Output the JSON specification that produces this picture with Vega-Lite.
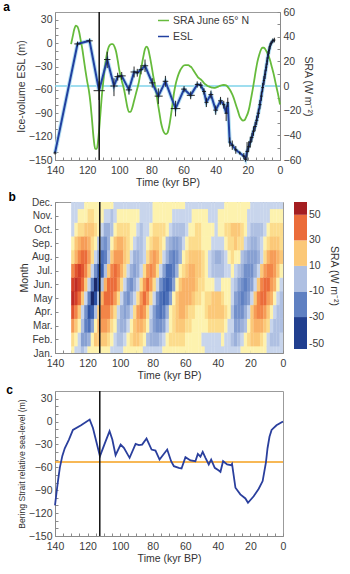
{
"$schema": "https://vega.github.io/schema/vega-lite/v6.json",
"background": "white",
"padding": {"left": 2, "top": 0, "right": 2, "bottom": 0},
"spacing": 1,
"config": {
  "font": "Liberation Sans",
  "view": {"stroke": "#9b9b9b"},
  "axis": {"labelFontSize": 10.5, "labelColor": "#3a3a3a", "titleFontSize": 10.5, "titleFontWeight": "normal", "titleColor": "#333", "domainColor": "#8a8a8a", "tickColor": "#8a8a8a", "grid": false, "tickSize": -3, "labelPadding": 6, "labelOverlap": false, "labelFlush": false, "labelBound": false, "titlePadding": 2},
  "axisX": {"labelPadding": 8},
  "title": {"anchor": "start", "fontSize": 12, "fontWeight": "bold", "frame": "bounds", "offset": -7},
  "legend": {"labelFontSize": 10.5, "labelColor": "#3a3a3a", "titleFontWeight": "normal", "titleFontSize": 10.5, "titleColor": "#333", "labelOverlap": false}
},
"resolve": {"scale": {"color": "independent"}, "legend": {"color": "independent"}},
"datasets": {
"sra": [{"t":130,"s":34},{"t":129,"s":40},{"t":128,"s":46},{"t":127,"s":49},{"t":126,"s":48},{"t":125,"s":44},{"t":124,"s":37},{"t":123,"s":30},{"t":122,"s":21},{"t":121,"s":12},{"t":120,"s":4},{"t":119,"s":-3},{"t":118,"s":-13},{"t":117,"s":-27},{"t":116,"s":-42},{"t":115,"s":-51},{"t":114,"s":-51},{"t":113,"s":-42},{"t":112,"s":-27},{"t":111,"s":-10},{"t":110,"s":3},{"t":109,"s":15},{"t":108,"s":24},{"t":107,"s":30},{"t":106,"s":33},{"t":105,"s":34},{"t":104,"s":34},{"t":103,"s":32},{"t":102,"s":28},{"t":101,"s":21},{"t":100,"s":13},{"t":99,"s":7},{"t":98,"s":2},{"t":97,"s":-3},{"t":96,"s":-10},{"t":95,"s":-17},{"t":94,"s":-21},{"t":93,"s":-21},{"t":92,"s":-18},{"t":91,"s":-13},{"t":90,"s":-8},{"t":89,"s":-3},{"t":88,"s":2},{"t":87,"s":9},{"t":86,"s":17},{"t":85,"s":24},{"t":84,"s":30},{"t":83,"s":32},{"t":82,"s":30},{"t":81,"s":24},{"t":80,"s":17},{"t":79,"s":9},{"t":78,"s":2},{"t":77,"s":-5},{"t":76,"s":-14},{"t":75,"s":-22},{"t":74,"s":-30},{"t":73,"s":-35},{"t":72,"s":-38},{"t":71,"s":-39},{"t":70,"s":-38},{"t":69,"s":-33},{"t":68,"s":-25},{"t":67,"s":-16},{"t":66,"s":-6},{"t":65,"s":1},{"t":64,"s":6},{"t":63,"s":10},{"t":62,"s":13},{"t":61,"s":15},{"t":60,"s":16.5},{"t":59,"s":17},{"t":58,"s":17},{"t":57,"s":17},{"t":56,"s":16},{"t":55,"s":15},{"t":54,"s":13},{"t":53,"s":11},{"t":52,"s":9},{"t":51,"s":7},{"t":50,"s":6},{"t":49,"s":5},{"t":48,"s":3.5},{"t":47,"s":2},{"t":46,"s":1},{"t":45,"s":0},{"t":44,"s":-0.5},{"t":43,"s":-1},{"t":42,"s":-1.4},{"t":41,"s":-1.5},{"t":40,"s":-1.3},{"t":39,"s":-0.8},{"t":38,"s":-0.2},{"t":37,"s":0.3},{"t":36,"s":0.7},{"t":35,"s":0.8},{"t":34,"s":0.7},{"t":33,"s":0},{"t":32,"s":-1.5},{"t":31,"s":-3.5},{"t":30,"s":-6},{"t":29,"s":-9},{"t":28,"s":-13},{"t":27,"s":-17},{"t":26,"s":-21},{"t":25,"s":-25},{"t":24,"s":-27},{"t":23,"s":-28},{"t":22,"s":-27.5},{"t":21,"s":-25},{"t":20,"s":-22},{"t":19,"s":-17},{"t":18,"s":-10},{"t":17,"s":-3},{"t":16,"s":5},{"t":15,"s":13},{"t":14,"s":20},{"t":13,"s":25},{"t":12,"s":29},{"t":11,"s":31},{"t":10,"s":31},{"t":9,"s":29.5},{"t":8,"s":27},{"t":7,"s":24},{"t":6,"s":20},{"t":5,"s":15},{"t":4,"s":10},{"t":3,"s":4},{"t":2,"s":-2},{"t":1,"s":-8},{"t":0,"s":-15}],
"esl": [
{"t":140,"v":-141,"tlo":139,"thi":141,"vlo":-143,"vhi":-139},
{"t":126,"v":-1,"tlo":124,"thi":128,"vlo":-4,"vhi":2},
{"t":118.5,"v":3,"tlo":116.5,"thi":120.5,"vlo":0,"vhi":6},
{"t":112.6,"v":-61,"tlo":109,"thi":116,"vlo":-73,"vhi":-49},
{"t":107.5,"v":-21,"tlo":105.5,"thi":109.5,"vlo":-32,"vhi":-11},
{"t":103.3,"v":-55,"tlo":101,"thi":105.5,"vlo":-68,"vhi":-45},
{"t":101,"v":-43,"tlo":99,"thi":103,"vlo":-48,"vhi":-38},
{"t":98.5,"v":-42,"tlo":96,"thi":101,"vlo":-47,"vhi":-37},
{"t":94,"v":-60,"tlo":92,"thi":96,"vlo":-66,"vhi":-54},
{"t":90.8,"v":-37,"tlo":89,"thi":93,"vlo":-44,"vhi":-30},
{"t":88.8,"v":-38,"tlo":87.5,"thi":90,"vlo":-43,"vhi":-33},
{"t":86.5,"v":-34,"tlo":85,"thi":88,"vlo":-40,"vhi":-28},
{"t":84,"v":-29,"tlo":82,"thi":86,"vlo":-37,"vhi":-21},
{"t":79.5,"v":-51,"tlo":77.5,"thi":81.5,"vlo":-57,"vhi":-45},
{"t":75.7,"v":-68,"tlo":73,"thi":78,"vlo":-78,"vhi":-58},
{"t":71.3,"v":-49,"tlo":69.5,"thi":73,"vlo":-56,"vhi":-42},
{"t":65,"v":-84,"tlo":62,"thi":68,"vlo":-94,"vhi":-74},
{"t":59.7,"v":-59,"tlo":58,"thi":61.5,"vlo":-63,"vhi":-55},
{"t":55.6,"v":-67,"tlo":53,"thi":58,"vlo":-72,"vhi":-62},
{"t":51.5,"v":-53,"tlo":50,"thi":53,"vlo":-57,"vhi":-49},
{"t":49.3,"v":-54,"tlo":48,"thi":50.5,"vlo":-58,"vhi":-50},
{"t":47.3,"v":-62,"tlo":46,"thi":48.5,"vlo":-66,"vhi":-58},
{"t":45.8,"v":-76,"tlo":44.5,"thi":47,"vlo":-82,"vhi":-70},
{"t":43,"v":-66,"tlo":41.5,"thi":44.5,"vlo":-71,"vhi":-61},
{"t":40,"v":-86,"tlo":38.5,"thi":41.5,"vlo":-92,"vhi":-80},
{"t":37,"v":-74,"tlo":35.5,"thi":38.5,"vlo":-79,"vhi":-69},
{"t":35,"v":-79,"tlo":34,"thi":36,"vlo":-84,"vhi":-74},
{"t":33.5,"v":-90,"tlo":32.5,"thi":34.5,"vlo":-100,"vhi":-80},
{"t":32.5,"v":-76,"tlo":31.8,"thi":33.2,"vlo":-82,"vhi":-70},
{"t":31.3,"v":-127,"tlo":30.5,"thi":32,"vlo":-133,"vhi":-121},
{"t":29.7,"v":-131,"tlo":28.5,"thi":31,"vlo":-137,"vhi":-125},
{"t":27.5,"v":-137,"tlo":26.5,"thi":28.5,"vlo":-142,"vhi":-132},
{"t":25,"v":-141,"tlo":24.5,"thi":25.5,"vlo":-143,"vhi":-139},
{"t":22.5,"v":-145,"tlo":21.5,"thi":23.5,"vlo":-149,"vhi":-141},
{"t":21.5,"v":-149,"tlo":20.5,"thi":22.5,"vlo":-152,"vhi":-146},
{"t":20.5,"v":-139,"tlo":19.5,"thi":21.5,"vlo":-151,"vhi":-127},
{"t":19.5,"v":-133,"tlo":18.5,"thi":20.5,"vlo":-140,"vhi":-126},
{"t":18.5,"v":-127,"tlo":17.5,"thi":19.5,"vlo":-134,"vhi":-120},
{"t":17.5,"v":-121,"tlo":16.5,"thi":18.5,"vlo":-127,"vhi":-115},
{"t":16.5,"v":-113,"tlo":15.5,"thi":17.5,"vlo":-119,"vhi":-107},
{"t":15.5,"v":-107,"tlo":14.5,"thi":16.5,"vlo":-113,"vhi":-101},
{"t":14.5,"v":-99,"tlo":13.5,"thi":15.5,"vlo":-105,"vhi":-93},
{"t":13.5,"v":-90,"tlo":12.5,"thi":14.5,"vlo":-96,"vhi":-84},
{"t":12.5,"v":-79,"tlo":11.5,"thi":13.5,"vlo":-85,"vhi":-73},
{"t":11.6,"v":-68,"tlo":10.8,"thi":12.4,"vlo":-74,"vhi":-62},
{"t":10.8,"v":-57,"tlo":10,"thi":11.6,"vlo":-63,"vhi":-51},
{"t":10,"v":-48,"tlo":9.3,"thi":10.7,"vlo":-54,"vhi":-42},
{"t":9.3,"v":-40,"tlo":8.6,"thi":10,"vlo":-46,"vhi":-34},
{"t":8.6,"v":-31,"tlo":8,"thi":9.2,"vlo":-36,"vhi":-26},
{"t":8,"v":-23,"tlo":7.4,"thi":8.6,"vlo":-28,"vhi":-18},
{"t":7.4,"v":-15,"tlo":6.8,"thi":8,"vlo":-20,"vhi":-10},
{"t":6.8,"v":-9,"tlo":6.2,"thi":7.4,"vlo":-14,"vhi":-4},
{"t":6.2,"v":-4,"tlo":5.6,"thi":6.8,"vlo":-8,"vhi":0},
{"t":5.5,"v":0,"tlo":4.8,"thi":6.2,"vlo":-3,"vhi":3},
{"t":4.5,"v":3,"tlo":3.8,"thi":5.2,"vlo":0,"vhi":6},
{"t":3.5,"v":4,"tlo":2.8,"thi":4.5,"vlo":1,"vhi":7}],
"bering": [{"t":140,"v":-110},{"t":139,"v":-92},{"t":138,"v":-75},{"t":137,"v":-60},{"t":135.5,"v":-45},{"t":134,"v":-35},{"t":131.5,"v":-24},{"t":129,"v":-11},{"t":124,"v":-5},{"t":118.7,"v":2.5},{"t":116.7,"v":-8.4},{"t":112.4,"v":-45.4},{"t":109.3,"v":-28},{"t":106.5,"v":-12.7},{"t":104.8,"v":-23.6},{"t":102.8,"v":-44},{"t":99.7,"v":-30.2},{"t":97.7,"v":-34.5},{"t":94.2,"v":-47.6},{"t":90.5,"v":-29.3},{"t":88.5,"v":-31},{"t":86.5,"v":-30.2},{"t":83.8,"v":-22.3},{"t":80.7,"v":-36.7},{"t":78.3,"v":-38},{"t":75.8,"v":-49.8},{"t":71.1,"v":-36.7},{"t":68.7,"v":-52},{"t":67,"v":-58.5},{"t":64,"v":-60.7},{"t":62.3,"v":-61.5},{"t":59.9,"v":-46.7},{"t":56.8,"v":-51},{"t":53.8,"v":-52},{"t":52.3,"v":-42.4},{"t":50.7,"v":-46},{"t":49.3,"v":-39.7},{"t":47.6,"v":-47.6},{"t":45.6,"v":-56.3},{"t":44.1,"v":-49.8},{"t":41.9,"v":-60.7},{"t":39.4,"v":-64.2},{"t":38.4,"v":-65.9},{"t":36.8,"v":-52},{"t":34.3,"v":-56.3},{"t":31.9,"v":-57.2},{"t":31.3,"v":-55.4},{"t":29.2,"v":-86.8},{"t":26.2,"v":-95.5},{"t":23.1,"v":-100.8},{"t":21.5,"v":-106.4},{"t":18,"v":-98},{"t":14.9,"v":-88},{"t":12.5,"v":-78},{"t":11.5,"v":-66},{"t":10.5,"v":-54},{"t":9.5,"v":-35},{"t":8.3,"v":-20},{"t":7,"v":-11},{"t":4,"v":-5},{"t":0,"v":0}],
"grid": [
{"t":129,"m":1,"v":0},{"t":129,"m":2,"v":8},{"t":129,"m":3,"v":23},{"t":129,"m":4,"v":37},{"t":129,"m":5,"v":49},{"t":129,"m":6,"v":40},{"t":129,"m":7,"v":25},{"t":129,"m":8,"v":9},{"t":129,"m":9,"v":2},{"t":129,"m":10,"v":-3},{"t":129,"m":11,"v":-3},{"t":129,"m":12,"v":-2},
{"t":127,"m":1,"v":-2},{"t":127,"m":2,"v":2},{"t":127,"m":3,"v":13},{"t":127,"m":4,"v":26},{"t":127,"m":5,"v":44},{"t":127,"m":6,"v":49},{"t":127,"m":7,"v":35},{"t":127,"m":8,"v":19},{"t":127,"m":9,"v":10},{"t":127,"m":10,"v":1},{"t":127,"m":11,"v":-1},{"t":127,"m":12,"v":-2},
{"t":125,"m":1,"v":-5},{"t":125,"m":2,"v":-5},{"t":125,"m":3,"v":2},{"t":125,"m":4,"v":10},{"t":125,"m":5,"v":30},{"t":125,"m":6,"v":44},{"t":125,"m":7,"v":43},{"t":125,"m":8,"v":27},{"t":125,"m":9,"v":15},{"t":125,"m":10,"v":6},{"t":125,"m":11,"v":1},{"t":125,"m":12,"v":-2},
{"t":123,"m":1,"v":-6},{"t":123,"m":2,"v":-17},{"t":123,"m":3,"v":-8},{"t":123,"m":4,"v":-3},{"t":123,"m":5,"v":12},{"t":123,"m":6,"v":30},{"t":123,"m":7,"v":39},{"t":123,"m":8,"v":33},{"t":123,"m":9,"v":21},{"t":123,"m":10,"v":9},{"t":123,"m":11,"v":3},{"t":123,"m":12,"v":-2},
{"t":121,"m":1,"v":-3},{"t":121,"m":2,"v":-20},{"t":121,"m":3,"v":-26},{"t":121,"m":4,"v":-23},{"t":121,"m":5,"v":-3},{"t":121,"m":6,"v":12},{"t":121,"m":7,"v":26},{"t":121,"m":8,"v":30},{"t":121,"m":9,"v":22},{"t":121,"m":10,"v":12},{"t":121,"m":11,"v":4},{"t":121,"m":12,"v":1},
{"t":119,"m":1,"v":0},{"t":119,"m":2,"v":-11},{"t":119,"m":3,"v":-32},{"t":119,"m":4,"v":-43},{"t":119,"m":5,"v":-27},{"t":119,"m":6,"v":-3},{"t":119,"m":7,"v":11},{"t":119,"m":8,"v":20},{"t":119,"m":9,"v":17},{"t":119,"m":10,"v":13},{"t":119,"m":11,"v":6},{"t":119,"m":12,"v":2},
{"t":117,"m":1,"v":3},{"t":117,"m":2,"v":1},{"t":117,"m":3,"v":-17},{"t":117,"m":4,"v":-36},{"t":117,"m":5,"v":-51},{"t":117,"m":6,"v":-27},{"t":117,"m":7,"v":-3},{"t":117,"m":8,"v":8},{"t":117,"m":9,"v":9},{"t":117,"m":10,"v":10},{"t":117,"m":11,"v":6},{"t":117,"m":12,"v":2},
{"t":115,"m":1,"v":4},{"t":115,"m":2,"v":10},{"t":115,"m":3,"v":2},{"t":115,"m":4,"v":-9},{"t":115,"m":5,"v":-42},{"t":115,"m":6,"v":-51},{"t":115,"m":7,"v":-24},{"t":115,"m":8,"v":-2},{"t":115,"m":9,"v":2},{"t":115,"m":10,"v":6},{"t":115,"m":11,"v":4},{"t":115,"m":12,"v":2},
{"t":113,"m":1,"v":4},{"t":113,"m":2,"v":13},{"t":113,"m":3,"v":15},{"t":113,"m":4,"v":13},{"t":113,"m":5,"v":-10},{"t":113,"m":6,"v":-42},{"t":113,"m":7,"v":-45},{"t":113,"m":8,"v":-18},{"t":113,"m":9,"v":-6},{"t":113,"m":10,"v":1},{"t":113,"m":11,"v":3},{"t":113,"m":12,"v":2},
{"t":111,"m":1,"v":3},{"t":111,"m":2,"v":14},{"t":111,"m":3,"v":20},{"t":111,"m":4,"v":26},{"t":111,"m":5,"v":15},{"t":111,"m":6,"v":-10},{"t":111,"m":7,"v":-37},{"t":111,"m":8,"v":-35},{"t":111,"m":9,"v":-19},{"t":111,"m":10,"v":-4},{"t":111,"m":11,"v":0},{"t":111,"m":12,"v":2},
{"t":109,"m":1,"v":2},{"t":109,"m":2,"v":11},{"t":109,"m":3,"v":21},{"t":109,"m":4,"v":29},{"t":109,"m":5,"v":30},{"t":109,"m":6,"v":15},{"t":109,"m":7,"v":-9},{"t":109,"m":8,"v":-29},{"t":109,"m":9,"v":-23},{"t":109,"m":10,"v":-11},{"t":109,"m":11,"v":-2},{"t":109,"m":12,"v":2},
{"t":107,"m":1,"v":0},{"t":107,"m":2,"v":5},{"t":107,"m":3,"v":17},{"t":107,"m":4,"v":27},{"t":107,"m":5,"v":34},{"t":107,"m":6,"v":30},{"t":107,"m":7,"v":13},{"t":107,"m":8,"v":-7},{"t":107,"m":9,"v":-12},{"t":107,"m":10,"v":-14},{"t":107,"m":11,"v":-5},{"t":107,"m":12,"v":2},
{"t":105,"m":1,"v":-1},{"t":105,"m":2,"v":1},{"t":105,"m":3,"v":8},{"t":105,"m":4,"v":18},{"t":105,"m":5,"v":32},{"t":105,"m":6,"v":34},{"t":105,"m":7,"v":26},{"t":105,"m":8,"v":10},{"t":105,"m":9,"v":1},{"t":105,"m":10,"v":-7},{"t":105,"m":11,"v":-6},{"t":105,"m":12,"v":2},
{"t":103,"m":1,"v":-3},{"t":103,"m":2,"v":-4},{"t":103,"m":3,"v":1},{"t":103,"m":4,"v":6},{"t":103,"m":5,"v":21},{"t":103,"m":6,"v":32},{"t":103,"m":7,"v":30},{"t":103,"m":8,"v":20},{"t":103,"m":9,"v":11},{"t":103,"m":10,"v":1},{"t":103,"m":11,"v":-3},{"t":103,"m":12,"v":-2},
{"t":101,"m":1,"v":-2},{"t":101,"m":2,"v":-8},{"t":101,"m":3,"v":-6},{"t":101,"m":4,"v":-3},{"t":101,"m":5,"v":7},{"t":101,"m":6,"v":21},{"t":101,"m":7,"v":28},{"t":101,"m":8,"v":23},{"t":101,"m":9,"v":15},{"t":101,"m":10,"v":7},{"t":101,"m":11,"v":0},{"t":101,"m":12,"v":-2},
{"t":99,"m":1,"v":-1},{"t":99,"m":2,"v":-7},{"t":99,"m":3,"v":-13},{"t":99,"m":4,"v":-14},{"t":99,"m":5,"v":-3},{"t":99,"m":6,"v":7},{"t":99,"m":7,"v":19},{"t":99,"m":8,"v":22},{"t":99,"m":9,"v":15},{"t":99,"m":10,"v":9},{"t":99,"m":11,"v":3},{"t":99,"m":12,"v":-2},
{"t":97,"m":1,"v":0},{"t":97,"m":2,"v":-3},{"t":97,"m":3,"v":-11},{"t":97,"m":4,"v":-18},{"t":97,"m":5,"v":-17},{"t":97,"m":6,"v":-3},{"t":97,"m":7,"v":6},{"t":97,"m":8,"v":14},{"t":97,"m":9,"v":13},{"t":97,"m":10,"v":9},{"t":97,"m":11,"v":4},{"t":97,"m":12,"v":-2},
{"t":95,"m":1,"v":2},{"t":95,"m":2,"v":1},{"t":95,"m":3,"v":-5},{"t":95,"m":4,"v":-11},{"t":95,"m":5,"v":-21},{"t":95,"m":6,"v":-17},{"t":95,"m":7,"v":-3},{"t":95,"m":8,"v":5},{"t":95,"m":9,"v":6},{"t":95,"m":10,"v":8},{"t":95,"m":11,"v":4},{"t":95,"m":12,"v":-2},
{"t":93,"m":1,"v":4},{"t":93,"m":2,"v":7},{"t":93,"m":3,"v":1},{"t":93,"m":4,"v":-3},{"t":93,"m":5,"v":-13},{"t":93,"m":6,"v":-21},{"t":93,"m":7,"v":-15},{"t":93,"m":8,"v":-2},{"t":93,"m":9,"v":1},{"t":93,"m":10,"v":4},{"t":93,"m":11,"v":3},{"t":93,"m":12,"v":-2},
{"t":91,"m":1,"v":4},{"t":91,"m":2,"v":12},{"t":91,"m":3,"v":11},{"t":91,"m":4,"v":8},{"t":91,"m":5,"v":-3},{"t":91,"m":6,"v":-13},{"t":91,"m":7,"v":-19},{"t":91,"m":8,"v":-12},{"t":91,"m":9,"v":-5},{"t":91,"m":10,"v":1},{"t":91,"m":11,"v":2},{"t":91,"m":12,"v":-2},
{"t":89,"m":1,"v":2},{"t":89,"m":2,"v":12},{"t":89,"m":3,"v":19},{"t":89,"m":4,"v":20},{"t":89,"m":5,"v":9},{"t":89,"m":6,"v":-3},{"t":89,"m":7,"v":-11},{"t":89,"m":8,"v":-14},{"t":89,"m":9,"v":-10},{"t":89,"m":10,"v":-3},{"t":89,"m":11,"v":0},{"t":89,"m":12,"v":-2},
{"t":87,"m":1,"v":0},{"t":87,"m":2,"v":7},{"t":87,"m":3,"v":19},{"t":87,"m":4,"v":27},{"t":87,"m":5,"v":24},{"t":87,"m":6,"v":9},{"t":87,"m":7,"v":-3},{"t":87,"m":8,"v":-9},{"t":87,"m":9,"v":-8},{"t":87,"m":10,"v":-6},{"t":87,"m":11,"v":-1},{"t":87,"m":12,"v":-2},
{"t":85,"m":1,"v":-2},{"t":85,"m":2,"v":1},{"t":85,"m":3,"v":11},{"t":85,"m":4,"v":20},{"t":85,"m":5,"v":32},{"t":85,"m":6,"v":24},{"t":85,"m":7,"v":8},{"t":85,"m":8,"v":-2},{"t":85,"m":9,"v":-4},{"t":85,"m":10,"v":-5},{"t":85,"m":11,"v":-3},{"t":85,"m":12,"v":-2},
{"t":83,"m":1,"v":-4},{"t":83,"m":2,"v":-6},{"t":83,"m":3,"v":1},{"t":83,"m":4,"v":8},{"t":83,"m":5,"v":24},{"t":83,"m":6,"v":32},{"t":83,"m":7,"v":21},{"t":83,"m":8,"v":6},{"t":83,"m":9,"v":1},{"t":83,"m":10,"v":-2},{"t":83,"m":11,"v":-2},{"t":83,"m":12,"v":-2},
{"t":81,"m":1,"v":-5},{"t":81,"m":2,"v":-12},{"t":81,"m":3,"v":-9},{"t":81,"m":4,"v":-4},{"t":81,"m":5,"v":9},{"t":81,"m":6,"v":24},{"t":81,"m":7,"v":28},{"t":81,"m":8,"v":16},{"t":81,"m":9,"v":8},{"t":81,"m":10,"v":1},{"t":81,"m":11,"v":-1},{"t":81,"m":12,"v":-2},
{"t":79,"m":1,"v":-5},{"t":79,"m":2,"v":-15},{"t":79,"m":3,"v":-19},{"t":79,"m":4,"v":-19},{"t":79,"m":5,"v":-5},{"t":79,"m":6,"v":9},{"t":79,"m":7,"v":21},{"t":79,"m":8,"v":22},{"t":79,"m":9,"v":14},{"t":79,"m":10,"v":5},{"t":79,"m":11,"v":0},{"t":79,"m":12,"v":2},
{"t":77,"m":1,"v":-3},{"t":77,"m":2,"v":-15},{"t":77,"m":3,"v":-24},{"t":77,"m":4,"v":-30},{"t":77,"m":5,"v":-22},{"t":77,"m":6,"v":-5},{"t":77,"m":7,"v":8},{"t":77,"m":8,"v":16},{"t":77,"m":9,"v":14},{"t":77,"m":10,"v":8},{"t":77,"m":11,"v":2},{"t":77,"m":12,"v":2},
{"t":75,"m":1,"v":-1},{"t":75,"m":2,"v":-10},{"t":75,"m":3,"v":-24},{"t":75,"m":4,"v":-33},{"t":75,"m":5,"v":-35},{"t":75,"m":6,"v":-22},{"t":75,"m":7,"v":-4},{"t":75,"m":8,"v":6},{"t":75,"m":9,"v":8},{"t":75,"m":10,"v":8},{"t":75,"m":11,"v":4},{"t":75,"m":12,"v":2},
{"t":73,"m":1,"v":1},{"t":73,"m":2,"v":-2},{"t":73,"m":3,"v":-16},{"t":73,"m":4,"v":-28},{"t":73,"m":5,"v":-39},{"t":73,"m":6,"v":-35},{"t":73,"m":7,"v":-19},{"t":73,"m":8,"v":-3},{"t":73,"m":9,"v":1},{"t":73,"m":10,"v":5},{"t":73,"m":11,"v":4},{"t":73,"m":12,"v":2},
{"t":71,"m":1,"v":2},{"t":71,"m":2,"v":2},{"t":71,"m":3,"v":-4},{"t":71,"m":4,"v":-14},{"t":71,"m":5,"v":-33},{"t":71,"m":6,"v":-39},{"t":71,"m":7,"v":-31},{"t":71,"m":8,"v":-15},{"t":71,"m":9,"v":-6},{"t":71,"m":10,"v":1},{"t":71,"m":11,"v":2},{"t":71,"m":12,"v":2},
{"t":69,"m":1,"v":2},{"t":69,"m":2,"v":5},{"t":69,"m":3,"v":4},{"t":69,"m":4,"v":1},{"t":69,"m":5,"v":-16},{"t":69,"m":6,"v":-33},{"t":69,"m":7,"v":-34},{"t":69,"m":8,"v":-24},{"t":69,"m":9,"v":-14},{"t":69,"m":10,"v":-4},{"t":69,"m":11,"v":0},{"t":69,"m":12,"v":2},
{"t":67,"m":1,"v":2},{"t":67,"m":2,"v":7},{"t":67,"m":3,"v":8},{"t":67,"m":4,"v":9},{"t":67,"m":5,"v":1},{"t":67,"m":6,"v":-16},{"t":67,"m":7,"v":-29},{"t":67,"m":8,"v":-27},{"t":67,"m":9,"v":-17},{"t":67,"m":10,"v":-8},{"t":67,"m":11,"v":-2},{"t":67,"m":12,"v":2},
{"t":65,"m":1,"v":2},{"t":65,"m":2,"v":7},{"t":65,"m":3,"v":10},{"t":65,"m":4,"v":13},{"t":65,"m":5,"v":10},{"t":65,"m":6,"v":1},{"t":65,"m":7,"v":-14},{"t":65,"m":8,"v":-22},{"t":65,"m":9,"v":-17},{"t":65,"m":10,"v":-10},{"t":65,"m":11,"v":-4},{"t":65,"m":12,"v":2},
{"t":63,"m":1,"v":2},{"t":63,"m":2,"v":6},{"t":63,"m":3,"v":11},{"t":63,"m":4,"v":15},{"t":63,"m":5,"v":15},{"t":63,"m":6,"v":10},{"t":63,"m":7,"v":1},{"t":63,"m":8,"v":-11},{"t":63,"m":9,"v":-11},{"t":63,"m":10,"v":-10},{"t":63,"m":11,"v":-5},{"t":63,"m":12,"v":2},
{"t":61,"m":1,"v":1},{"t":61,"m":2,"v":5},{"t":61,"m":3,"v":10},{"t":61,"m":4,"v":15},{"t":61,"m":5,"v":17},{"t":61,"m":6,"v":15},{"t":61,"m":7,"v":9},{"t":61,"m":8,"v":1},{"t":61,"m":9,"v":-3},{"t":61,"m":10,"v":-7},{"t":61,"m":11,"v":-5},{"t":61,"m":12,"v":2},
{"t":59,"m":1,"v":1},{"t":59,"m":2,"v":4},{"t":59,"m":3,"v":8},{"t":59,"m":4,"v":13},{"t":59,"m":5,"v":17},{"t":59,"m":6,"v":17},{"t":59,"m":7,"v":13},{"t":59,"m":8,"v":7},{"t":59,"m":9,"v":3},{"t":59,"m":10,"v":-2},{"t":59,"m":11,"v":-3},{"t":59,"m":12,"v":-2},
{"t":57,"m":1,"v":0},{"t":57,"m":2,"v":2},{"t":57,"m":3,"v":6},{"t":57,"m":4,"v":9},{"t":57,"m":5,"v":15},{"t":57,"m":6,"v":17},{"t":57,"m":7,"v":15},{"t":57,"m":8,"v":10},{"t":57,"m":9,"v":6},{"t":57,"m":10,"v":2},{"t":57,"m":11,"v":-1},{"t":57,"m":12,"v":-2},
{"t":55,"m":1,"v":0},{"t":55,"m":2,"v":1},{"t":55,"m":3,"v":4},{"t":55,"m":4,"v":6},{"t":55,"m":5,"v":11},{"t":55,"m":6,"v":15},{"t":55,"m":7,"v":15},{"t":55,"m":8,"v":12},{"t":55,"m":9,"v":7},{"t":55,"m":10,"v":4},{"t":55,"m":11,"v":1},{"t":55,"m":12,"v":-2},
{"t":53,"m":1,"v":0},{"t":53,"m":2,"v":0},{"t":53,"m":3,"v":2},{"t":53,"m":4,"v":4},{"t":53,"m":5,"v":7},{"t":53,"m":6,"v":11},{"t":53,"m":7,"v":13},{"t":53,"m":8,"v":12},{"t":53,"m":9,"v":8},{"t":53,"m":10,"v":5},{"t":53,"m":11,"v":2},{"t":53,"m":12,"v":-2},
{"t":51,"m":1,"v":0},{"t":51,"m":2,"v":0},{"t":51,"m":3,"v":1},{"t":51,"m":4,"v":2},{"t":51,"m":5,"v":5},{"t":51,"m":6,"v":7},{"t":51,"m":7,"v":10},{"t":51,"m":8,"v":10},{"t":51,"m":9,"v":7},{"t":51,"m":10,"v":5},{"t":51,"m":11,"v":2},{"t":51,"m":12,"v":-2},
{"t":49,"m":1,"v":0},{"t":49,"m":2,"v":-1},{"t":49,"m":3,"v":1},{"t":49,"m":4,"v":4},{"t":49,"m":5,"v":4},{"t":49,"m":6,"v":5},{"t":49,"m":7,"v":6},{"t":49,"m":8,"v":6},{"t":49,"m":9,"v":4},{"t":49,"m":10,"v":3},{"t":49,"m":11,"v":1},{"t":49,"m":12,"v":-2},
{"t":47,"m":1,"v":-1},{"t":47,"m":2,"v":-2},{"t":47,"m":3,"v":3},{"t":47,"m":4,"v":7},{"t":47,"m":5,"v":5},{"t":47,"m":6,"v":3},{"t":47,"m":7,"v":2},{"t":47,"m":8,"v":1},{"t":47,"m":9,"v":2},{"t":47,"m":10,"v":2},{"t":47,"m":11,"v":0},{"t":47,"m":12,"v":-2},
{"t":45,"m":1,"v":-2},{"t":45,"m":2,"v":-3},{"t":45,"m":3,"v":6},{"t":45,"m":4,"v":10},{"t":45,"m":5,"v":8},{"t":45,"m":6,"v":1},{"t":45,"m":7,"v":-2},{"t":45,"m":8,"v":-3},{"t":45,"m":9,"v":0},{"t":45,"m":10,"v":1},{"t":45,"m":11,"v":-1},{"t":45,"m":12,"v":-2},
{"t":43,"m":1,"v":-3},{"t":43,"m":2,"v":-3},{"t":43,"m":3,"v":8},{"t":43,"m":4,"v":13},{"t":43,"m":5,"v":10},{"t":43,"m":6,"v":0},{"t":43,"m":7,"v":-6},{"t":43,"m":8,"v":-8},{"t":43,"m":9,"v":-3},{"t":43,"m":10,"v":0},{"t":43,"m":11,"v":-1},{"t":43,"m":12,"v":-2},
{"t":41,"m":1,"v":-3},{"t":41,"m":2,"v":-2},{"t":41,"m":3,"v":9},{"t":41,"m":4,"v":14},{"t":41,"m":5,"v":11},{"t":41,"m":6,"v":-1},{"t":41,"m":7,"v":-9},{"t":41,"m":8,"v":-11},{"t":41,"m":9,"v":-5},{"t":41,"m":10,"v":-1},{"t":41,"m":11,"v":-1},{"t":41,"m":12,"v":-2},
{"t":39,"m":1,"v":-2},{"t":39,"m":2,"v":-1},{"t":39,"m":3,"v":8},{"t":39,"m":4,"v":13},{"t":39,"m":5,"v":10},{"t":39,"m":6,"v":-1},{"t":39,"m":7,"v":-9},{"t":39,"m":8,"v":-11},{"t":39,"m":9,"v":-4},{"t":39,"m":10,"v":1},{"t":39,"m":11,"v":0},{"t":39,"m":12,"v":-2},
{"t":37,"m":1,"v":-2},{"t":37,"m":2,"v":0},{"t":37,"m":3,"v":6},{"t":37,"m":4,"v":10},{"t":37,"m":5,"v":7},{"t":37,"m":6,"v":0},{"t":37,"m":7,"v":-7},{"t":37,"m":8,"v":-8},{"t":37,"m":9,"v":-1},{"t":37,"m":10,"v":3},{"t":37,"m":11,"v":1},{"t":37,"m":12,"v":-2},
{"t":35,"m":1,"v":-3},{"t":35,"m":2,"v":-1},{"t":35,"m":3,"v":3},{"t":35,"m":4,"v":6},{"t":35,"m":5,"v":4},{"t":35,"m":6,"v":1},{"t":35,"m":7,"v":-4},{"t":35,"m":8,"v":-3},{"t":35,"m":9,"v":3},{"t":35,"m":10,"v":6},{"t":35,"m":11,"v":2},{"t":35,"m":12,"v":2},
{"t":33,"m":1,"v":-4},{"t":33,"m":2,"v":-3},{"t":33,"m":3,"v":-1},{"t":33,"m":4,"v":1},{"t":33,"m":5,"v":0},{"t":33,"m":6,"v":0},{"t":33,"m":7,"v":-1},{"t":33,"m":8,"v":2},{"t":33,"m":9,"v":7},{"t":33,"m":10,"v":9},{"t":33,"m":11,"v":3},{"t":33,"m":12,"v":2},
{"t":31,"m":1,"v":-4},{"t":31,"m":2,"v":-6},{"t":31,"m":3,"v":-5},{"t":31,"m":4,"v":-6},{"t":31,"m":5,"v":-5},{"t":31,"m":6,"v":-3},{"t":31,"m":7,"v":2},{"t":31,"m":8,"v":5},{"t":31,"m":9,"v":9},{"t":31,"m":10,"v":11},{"t":31,"m":11,"v":3},{"t":31,"m":12,"v":2},
{"t":29,"m":1,"v":-3},{"t":29,"m":2,"v":-11},{"t":29,"m":3,"v":-17},{"t":29,"m":4,"v":-21},{"t":29,"m":5,"v":-17},{"t":29,"m":6,"v":-9},{"t":29,"m":7,"v":-3},{"t":29,"m":8,"v":4},{"t":29,"m":9,"v":10},{"t":29,"m":10,"v":12},{"t":29,"m":11,"v":3},{"t":29,"m":12,"v":2},
{"t":27,"m":1,"v":-1},{"t":27,"m":2,"v":-9},{"t":27,"m":3,"v":-17},{"t":27,"m":4,"v":-24},{"t":27,"m":5,"v":-25},{"t":27,"m":6,"v":-17},{"t":27,"m":7,"v":-8},{"t":27,"m":8,"v":0},{"t":27,"m":9,"v":9},{"t":27,"m":10,"v":12},{"t":27,"m":11,"v":3},{"t":27,"m":12,"v":2},
{"t":25,"m":1,"v":1},{"t":25,"m":2,"v":-4},{"t":25,"m":3,"v":-14},{"t":25,"m":4,"v":-21},{"t":25,"m":5,"v":-28},{"t":25,"m":6,"v":-25},{"t":25,"m":7,"v":-15},{"t":25,"m":8,"v":-6},{"t":25,"m":9,"v":5},{"t":25,"m":10,"v":9},{"t":25,"m":11,"v":2},{"t":25,"m":12,"v":2},
{"t":23,"m":1,"v":2},{"t":23,"m":2,"v":2},{"t":23,"m":3,"v":-6},{"t":23,"m":4,"v":-15},{"t":23,"m":5,"v":-25},{"t":23,"m":6,"v":-28},{"t":23,"m":7,"v":-22},{"t":23,"m":8,"v":-12},{"t":23,"m":9,"v":-2},{"t":23,"m":10,"v":3},{"t":23,"m":11,"v":0},{"t":23,"m":12,"v":2},
{"t":21,"m":1,"v":4},{"t":21,"m":2,"v":8},{"t":21,"m":3,"v":3},{"t":21,"m":4,"v":-3},{"t":21,"m":5,"v":-17},{"t":21,"m":6,"v":-25},{"t":21,"m":7,"v":-25},{"t":21,"m":8,"v":-17},{"t":21,"m":9,"v":-10},{"t":21,"m":10,"v":-4},{"t":21,"m":11,"v":-1},{"t":21,"m":12,"v":2},
{"t":19,"m":1,"v":4},{"t":19,"m":2,"v":12},{"t":19,"m":3,"v":12},{"t":19,"m":4,"v":11},{"t":19,"m":5,"v":-3},{"t":19,"m":6,"v":-17},{"t":19,"m":7,"v":-22},{"t":19,"m":8,"v":-19},{"t":19,"m":9,"v":-12},{"t":19,"m":10,"v":-6},{"t":19,"m":11,"v":-2},{"t":19,"m":12,"v":-2},
{"t":17,"m":1,"v":3},{"t":17,"m":2,"v":12},{"t":17,"m":3,"v":18},{"t":17,"m":4,"v":21},{"t":17,"m":5,"v":13},{"t":17,"m":6,"v":-3},{"t":17,"m":7,"v":-15},{"t":17,"m":8,"v":-17},{"t":17,"m":9,"v":-12},{"t":17,"m":10,"v":-7},{"t":17,"m":11,"v":-3},{"t":17,"m":12,"v":-2},
{"t":15,"m":1,"v":2},{"t":15,"m":2,"v":11},{"t":15,"m":3,"v":19},{"t":15,"m":4,"v":26},{"t":15,"m":5,"v":25},{"t":15,"m":6,"v":13},{"t":15,"m":7,"v":-3},{"t":15,"m":8,"v":-12},{"t":15,"m":9,"v":-10},{"t":15,"m":10,"v":-7},{"t":15,"m":11,"v":-3},{"t":15,"m":12,"v":-2},
{"t":13,"m":1,"v":1},{"t":13,"m":2,"v":8},{"t":13,"m":3,"v":17},{"t":13,"m":4,"v":25},{"t":13,"m":5,"v":31},{"t":13,"m":6,"v":25},{"t":13,"m":7,"v":11},{"t":13,"m":8,"v":-2},{"t":13,"m":9,"v":-5},{"t":13,"m":10,"v":-6},{"t":13,"m":11,"v":-3},{"t":13,"m":12,"v":-2},
{"t":11,"m":1,"v":0},{"t":11,"m":2,"v":4},{"t":11,"m":3,"v":12},{"t":11,"m":4,"v":20},{"t":11,"m":5,"v":30},{"t":11,"m":6,"v":31},{"t":11,"m":7,"v":22},{"t":11,"m":8,"v":9},{"t":11,"m":9,"v":2},{"t":11,"m":10,"v":-3},{"t":11,"m":11,"v":-3},{"t":11,"m":12,"v":-2},
{"t":9,"m":1,"v":-2},{"t":9,"m":2,"v":-1},{"t":9,"m":3,"v":6},{"t":9,"m":4,"v":13},{"t":9,"m":5,"v":24},{"t":9,"m":6,"v":30},{"t":9,"m":7,"v":27},{"t":9,"m":8,"v":17},{"t":9,"m":9,"v":9},{"t":9,"m":10,"v":1},{"t":9,"m":11,"v":-1},{"t":9,"m":12,"v":-2},
{"t":7,"m":1,"v":-3},{"t":7,"m":2,"v":-6},{"t":7,"m":3,"v":-1},{"t":7,"m":4,"v":3},{"t":7,"m":5,"v":15},{"t":7,"m":6,"v":24},{"t":7,"m":7,"v":26},{"t":7,"m":8,"v":21},{"t":7,"m":9,"v":13},{"t":7,"m":10,"v":5},{"t":7,"m":11,"v":1},{"t":7,"m":12,"v":-2},
{"t":5,"m":1,"v":-3},{"t":5,"m":2,"v":-6},{"t":5,"m":3,"v":-6},{"t":5,"m":4,"v":-4},{"t":5,"m":5,"v":4},{"t":5,"m":6,"v":15},{"t":5,"m":7,"v":21},{"t":5,"m":8,"v":20},{"t":5,"m":9,"v":14},{"t":5,"m":10,"v":8},{"t":5,"m":11,"v":2},{"t":5,"m":12,"v":-2},
{"t":3,"m":1,"v":-3},{"t":3,"m":2,"v":-6},{"t":3,"m":3,"v":-6},{"t":3,"m":4,"v":-6},{"t":3,"m":5,"v":-3},{"t":3,"m":6,"v":4},{"t":3,"m":7,"v":13},{"t":3,"m":8,"v":16},{"t":3,"m":9,"v":12},{"t":3,"m":10,"v":8},{"t":3,"m":11,"v":4},{"t":3,"m":12,"v":-2},
{"t":1,"m":1,"v":-2},{"t":1,"m":2,"v":-5},{"t":1,"m":3,"v":-6},{"t":1,"m":4,"v":-7},{"t":1,"m":5,"v":-8},{"t":1,"m":6,"v":-5},{"t":1,"m":7,"v":4},{"t":1,"m":8,"v":10},{"t":1,"m":9,"v":9},{"t":1,"m":10,"v":7},{"t":1,"m":11,"v":4},{"t":1,"m":12,"v":-2}
]
},
"vconcat": [
{
 "width": 225, "height": 148,
 "title": {"text": "a", "dx": -13},
 "resolve": {"scale": {"y": "independent"}},
 "layer": [
  {
   "layer": [
    {"data": {"values": [{"lvl": -55}]},
     "mark": {"type": "rule", "color": "#7fd3ea", "strokeWidth": 1.3},
     "encoding": {
       "y": {"field": "lvl", "type": "quantitative", "scale": {"domain": [-150, 40]},
             "axis": {"title": "Ice-volume ESL (m)", "labelOverlap": false, "values": [-150,-140,-130,-120,-110,-100,-90,-80,-70,-60,-50,-40,-30,-20,-10,0,10,20,30], "labelExpr": "datum.value % 30 === 0 ? datum.label : ''"}}
     }},
    {"data": {"name": "esl"},
     "mark": {"type": "line", "color": "#b5e0f2", "strokeWidth": 4},
     "encoding": {
       "x": {"field": "t", "type": "quantitative", "scale": {"domain": [0, 140], "reverse": true},
             "axis": {"title": "Time (kyr BP)", "labelOverlap": false, "values": [0,5,10,15,20,25,30,35,40,45,50,55,60,65,70,75,80,85,90,95,100,105,110,115,120,125,130,135,140], "labelExpr": "datum.value % 20 === 0 ? datum.label : ''"}},
       "y": {"field": "v", "type": "quantitative", "scale": {"domain": [-150, 40]},
             "axis": {"title": "Ice-volume ESL (m)", "labelOverlap": false, "values": [-150,-140,-130,-120,-110,-100,-90,-80,-70,-60,-50,-40,-30,-20,-10,0,10,20,30], "labelExpr": "datum.value % 30 === 0 ? datum.label : ''"}}
     }}
   ]
  },
  {"data": {"name": "sra"},
   "mark": {"type": "line", "strokeWidth": 1.8, "interpolate": "monotone"},
   "encoding": {
     "x": {"field": "t", "type": "quantitative", "scale": {"domain": [0, 140], "reverse": true},
           "axis": {"title": "Time (kyr BP)", "labelOverlap": false, "values": [0,5,10,15,20,25,30,35,40,45,50,55,60,65,70,75,80,85,90,95,100,105,110,115,120,125,130,135,140], "labelExpr": "datum.value % 20 === 0 ? datum.label : ''"}},
     "y": {"field": "s", "type": "quantitative", "scale": {"domain": [-60, 60]},
           "axis": {"orient": "right", "title": "SRA (W m⁻²)", "labelOverlap": false, "values": [-60,-50,-40,-30,-20,-10,0,10,20,30,40,50,60], "labelExpr": "datum.value % 20 === 0 ? datum.label : ''"}},
     "color": {"datum": "SRA June 65° N", "type": "nominal",
               "scale": {"domain": ["SRA June 65° N", "ESL"], "range": ["#66bb3c", "#2240a0"]},
               "legend": {"title": null, "orient": "none", "legendX": 102, "legendY": 2, "symbolType": "stroke", "symbolSize": 120, "symbolStrokeWidth": 1.5, "rowPadding": 4, "labelOffset": 3}}
   }},
  {
   "layer": [
    {"data": {"name": "esl"},
     "mark": {"type": "line", "strokeWidth": 2},
     "encoding": {
       "x": {"field": "t", "type": "quantitative", "scale": {"domain": [0, 140], "reverse": true},
             "axis": {"title": "Time (kyr BP)", "labelOverlap": false, "values": [0,5,10,15,20,25,30,35,40,45,50,55,60,65,70,75,80,85,90,95,100,105,110,115,120,125,130,135,140], "labelExpr": "datum.value % 20 === 0 ? datum.label : ''"}},
       "y": {"field": "v", "type": "quantitative", "scale": {"domain": [-150, 40]}, "axis": null},
       "color": {"datum": "ESL", "type": "nominal"}
     }},
    {"data": {"name": "esl"},
     "mark": {"type": "rule", "color": "#151515", "strokeWidth": 0.9},
     "encoding": {
       "x": {"field": "tlo", "type": "quantitative", "scale": {"domain": [0, 140], "reverse": true},
             "axis": {"title": "Time (kyr BP)", "labelOverlap": false, "values": [0,5,10,15,20,25,30,35,40,45,50,55,60,65,70,75,80,85,90,95,100,105,110,115,120,125,130,135,140], "labelExpr": "datum.value % 20 === 0 ? datum.label : ''"}},
       "x2": {"field": "thi"},
       "y": {"field": "v", "type": "quantitative", "scale": {"domain": [-150, 40]}, "axis": null}
     }},
    {"data": {"name": "esl"},
     "mark": {"type": "rule", "color": "#151515", "strokeWidth": 0.9},
     "encoding": {
       "x": {"field": "t", "type": "quantitative", "scale": {"domain": [0, 140], "reverse": true},
             "axis": {"title": "Time (kyr BP)", "labelOverlap": false, "values": [0,5,10,15,20,25,30,35,40,45,50,55,60,65,70,75,80,85,90,95,100,105,110,115,120,125,130,135,140], "labelExpr": "datum.value % 20 === 0 ? datum.label : ''"}},
       "y": {"field": "vlo", "type": "quantitative", "scale": {"domain": [-150, 40]}, "axis": null},
       "y2": {"field": "vhi"}
     }},
    {"data": {"values": [{"t": 112.5}]},
     "mark": {"type": "rule", "color": "#111", "strokeWidth": 1.5},
     "encoding": {"x": {"field": "t", "type": "quantitative", "scale": {"domain": [0, 140], "reverse": true},
             "axis": {"title": "Time (kyr BP)", "labelOverlap": false, "values": [0,5,10,15,20,25,30,35,40,45,50,55,60,65,70,75,80,85,90,95,100,105,110,115,120,125,130,135,140], "labelExpr": "datum.value % 20 === 0 ? datum.label : ''"}}}}
   ]
  }
 ]
},
{
 "width": 228, "height": 151,
 "title": {"text": "b", "dx": -11},
 "layer": [
  {"data": {"name": "grid"},
   "mark": {"type": "rect", "clip": true, "width": 3.5, "height": 14.2},
   "encoding": {
     "x": {"field": "t", "type": "quantitative", "scale": {"domain": [0, 140], "reverse": true},
           "axis": {"title": "Time (kyr BP)", "labelOverlap": false, "values": [0,5,10,15,20,25,30,35,40,45,50,55,60,65,70,75,80,85,90,95,100,105,110,115,120,125,130,135,140], "labelExpr": "datum.value % 20 === 0 ? datum.label : ''"}},
     "y": {"field": "m", "type": "quantitative", "scale": {"domain": [1, 12]},
           "axis": {"title": "Month", "labelOverlap": false, "values": [1,2,3,4,5,6,7,8,9,10,11,12], "labelFontSize": 10, "labelExpr": "['Jan.','Feb.','Mar.','Apr.','May','Jun.','Jul.','Aug.','Sep.','Oct.','Nov.','Dec.'][datum.value - 1]"}},
     "color": {"field": "v", "type": "quantitative",
               "scale": {"type": "threshold", "domain": [-50,-45,-40,-35,-30,-25,-20,-15,-10,-5,0,5,10,15,20,25,30,35,40,45,50,55], "range": ["#1b2a6b","#213f8f","#2c50a2","#3b60ae","#4c70b9","#5f80c2","#7390ca","#87a0d2","#9bb0da","#afc0e2","#c8d5ec","#fdf2ae","#fcdc8c","#fbc878","#f9b267","#f69c57","#f28548","#eb6c3a","#e2552f","#d43f28","#c02c24","#a41e21","#7a161a"]},
               "legend": {"type": "gradient", "title": "SRA (W m⁻²)", "titleOrient": "right", "direction": "vertical", "gradientLength": 147, "gradientThickness": 13, "gradientStrokeWidth": 0, "values": [-49.9, -30, -10, 10, 30, 50], "labelExpr": "'' + round(datum.value)", "labelOverlap": false, "offset": 11}}
   }},
  {"data": {"values": [{"t": 112.5}]},
   "mark": {"type": "rule", "color": "#111", "strokeWidth": 1.5},
   "encoding": {"x": {"field": "t", "type": "quantitative", "scale": {"domain": [0, 140], "reverse": true},
           "axis": {"title": "Time (kyr BP)", "labelOverlap": false, "values": [0,5,10,15,20,25,30,35,40,45,50,55,60,65,70,75,80,85,90,95,100,105,110,115,120,125,130,135,140], "labelExpr": "datum.value % 20 === 0 ? datum.label : ''"}}}}
 ]
},
{
 "width": 228, "height": 145,
 "title": {"text": "c", "dx": -11},
 "layer": [
  {"data": {"values": [{"lvl": -53}]},
   "mark": {"type": "rule", "color": "#f5a01e", "strokeWidth": 1.6},
   "encoding": {
     "y": {"field": "lvl", "type": "quantitative", "scale": {"domain": [-150, 40]},
           "axis": {"title": "Bering Strait relative sea-level (m)", "labelOverlap": false, "titleFontSize": 8.6, "values": [-150,-140,-130,-120,-110,-100,-90,-80,-70,-60,-50,-40,-30,-20,-10,0,10,20,30], "labelExpr": "datum.value % 30 === 0 ? datum.label : ''"}}
   }},
  {"data": {"name": "bering"},
   "mark": {"type": "line", "color": "#2a3f9d", "strokeWidth": 1.8},
   "encoding": {
     "x": {"field": "t", "type": "quantitative", "scale": {"domain": [0, 140], "reverse": true},
           "axis": {"title": "Time (kyr BP)", "labelOverlap": false, "values": [0,5,10,15,20,25,30,35,40,45,50,55,60,65,70,75,80,85,90,95,100,105,110,115,120,125,130,135,140], "labelExpr": "datum.value % 20 === 0 ? datum.label : ''"}},
     "y": {"field": "v", "type": "quantitative", "scale": {"domain": [-150, 40]},
           "axis": {"title": "Bering Strait relative sea-level (m)", "labelOverlap": false, "titleFontSize": 8.6, "values": [-150,-140,-130,-120,-110,-100,-90,-80,-70,-60,-50,-40,-30,-20,-10,0,10,20,30], "labelExpr": "datum.value % 30 === 0 ? datum.label : ''"}}
   }},
  {"data": {"values": [{"t": 112.5}]},
   "mark": {"type": "rule", "color": "#111", "strokeWidth": 1.5},
   "encoding": {"x": {"field": "t", "type": "quantitative", "scale": {"domain": [0, 140], "reverse": true},
           "axis": {"title": "Time (kyr BP)", "labelOverlap": false, "values": [0,5,10,15,20,25,30,35,40,45,50,55,60,65,70,75,80,85,90,95,100,105,110,115,120,125,130,135,140], "labelExpr": "datum.value % 20 === 0 ? datum.label : ''"}}}}
 ]
}
]
}
